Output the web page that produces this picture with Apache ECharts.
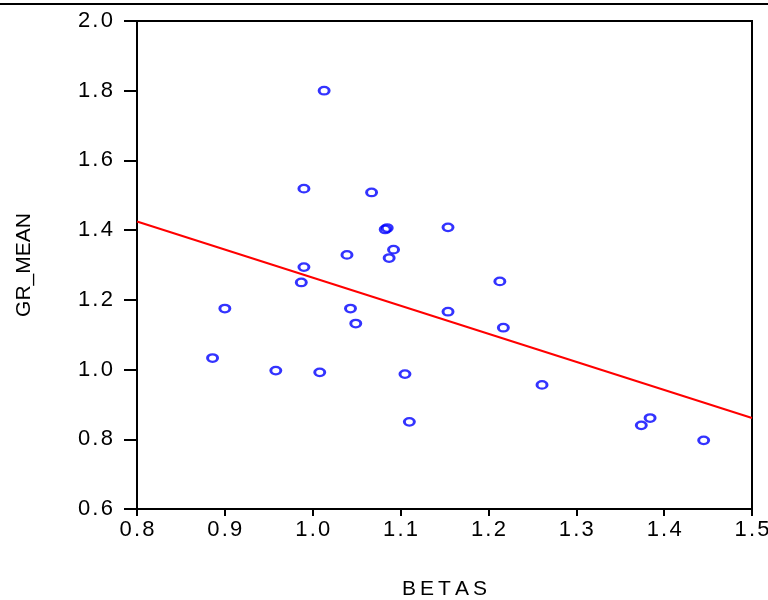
<!DOCTYPE html>
<html><head><meta charset="utf-8">
<script src="https://cdn.jsdelivr.net/npm/echarts@6/dist/echarts.min.js"></script>
<style>html,body{margin:0;padding:0;background:#fff}#c{width:768px;height:600px}</style>
</head><body><div id="c"></div>
<script>
// Data
const betas = [1.013, 0.990, 1.067, 1.0825, 1.0848, 1.154, 1.092, 1.039, 1.087, 0.990, 0.987, 1.213, 0.900, 1.043, 1.154, 1.049, 1.217, 0.886, 0.958, 1.008, 1.105, 1.261, 1.110, 1.384, 1.374, 1.445];
const grMean = [1.800, 1.519, 1.508, 1.402, 1.406, 1.408, 1.344, 1.329, 1.320, 1.294, 1.250, 1.253, 1.175, 1.175, 1.166, 1.132, 1.120, 1.033, 0.997, 0.992, 0.987, 0.956, 0.850, 0.861, 0.840, 0.797];
const fitX = [0.8, 1.5];
const fitY = [1.425, 0.861];
const xTicks = ['0.8','0.9','1.0','1.1','1.2','1.3','1.4','1.5'];
const yTicks = ['0.6','0.8','1.0','1.2','1.4','1.6','1.8','2.0'];

const chart = echarts.init(document.getElementById('c'), null, {renderer:'canvas'});
const font = 'Liberation Sans, Arial, sans-serif';
// spread characters slightly (the reference uses wide letter spacing)
const spaced = s => s.split('').map(ch => '{c|' + ch + '}').join('');
const richC = (pad, size) => ({c:{fontFamily:font,fontSize:size,color:'#000',padding:[0,pad,0,pad]}});
chart.setOption({
  animation:false,
  backgroundColor:'#fff',
  grid:{left:137,right:16,top:21,bottom:91,show:true,borderColor:'#000',borderWidth:2,
    backgroundColor:'transparent',containLabel:false,outerBoundsMode:'none'},
  xAxis:{type:'value',min:0.8,max:1.5,interval:0.1,
    name:spaced('BETAS'),nameLocation:'middle',nameGap:70,
    nameTextStyle:{fontFamily:font,fontSize:21,color:'#000',rich:richC(2,21)},
    axisLine:{show:true,lineStyle:{color:'#000',width:2}},
    axisTick:{show:true,length:7,lineStyle:{color:'#000',width:2}},
    axisLabel:{fontFamily:font,fontSize:22,color:'#000',margin:10,rich:richC(1.1,22),
      formatter:v=>{const s=v.toFixed(1);return xTicks.includes(s)?spaced(s):'';}},
    splitLine:{show:false}},
  yAxis:{type:'value',min:0.6,max:2.0,interval:0.2,
    name:'GR_MEAN',nameLocation:'middle',nameGap:102,nameRotate:90,
    nameTextStyle:{fontFamily:font,fontSize:21,color:'#000'},
    axisLine:{show:true,lineStyle:{color:'#000',width:2}},
    axisTick:{show:true,length:13,lineStyle:{color:'#000',width:2}},
    axisLabel:{fontFamily:font,fontSize:22,color:'#000',margin:23,rich:richC(1.1,22),
      formatter:v=>{const s=v.toFixed(1);return yTicks.includes(s)?spaced(s):'';}},
    splitLine:{show:false}},
  graphic:[{type:'line',shape:{x1:0,y1:4,x2:768,y2:4},style:{stroke:'#000',lineWidth:2}}],
  series:[
    {type:'line',data:fitX.map((x,i)=>[x,fitY[i]]),showSymbol:false,symbol:'none',
      lineStyle:{color:'#ff0000',width:2},z:2},
    {type:'scatter',data:betas.map((x,i)=>[x,grMean[i]]),symbol:'circle',symbolSize:[10,7.5],
      itemStyle:{color:'rgba(255,255,255,0)',borderColor:'#0000ff',borderWidth:2.6},z:3}
  ]
});
</script></body></html>
